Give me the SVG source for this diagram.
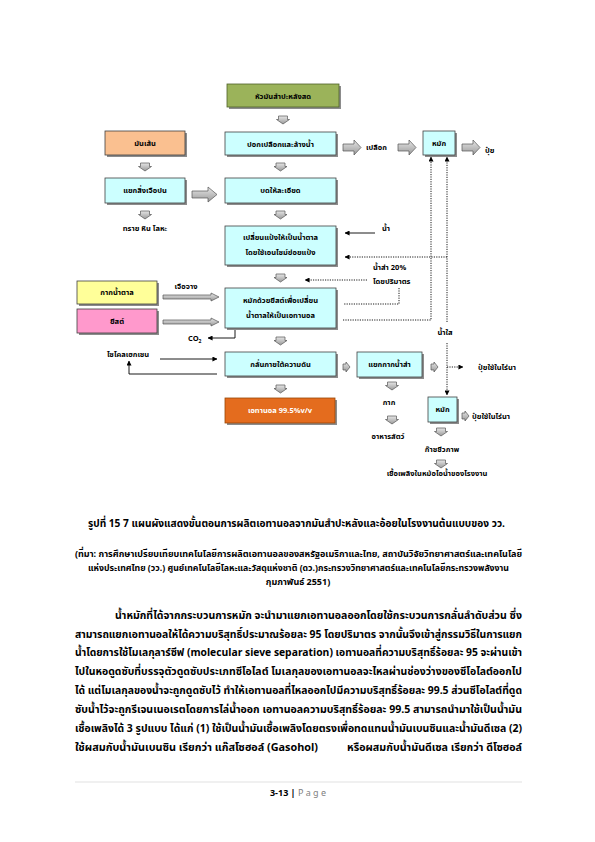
<svg xmlns="http://www.w3.org/2000/svg" width="595" height="842" viewBox="0 0 595 842">
<style>
text{font-family:"Noto Sans Thai","Noto Serif Thai","Loma","Garuda","Tlwg Typo","Noto Sans","DejaVu Sans",sans-serif;fill:#000}
.bx{fill:#CCFFFF;stroke:#404040;stroke-width:0.8}
.sh{fill:#8C8C8C}
.t{font-size:7.5px;font-weight:bold;text-anchor:middle}
.l{font-size:7.5px;font-weight:bold}
.lc{font-size:7.5px;font-weight:bold;text-anchor:middle}
.ga{fill:url(#gg);stroke:#555;stroke-width:0.7}
.sl{fill:none;stroke:#000;stroke-width:0.9}
.dl{fill:none;stroke:#000;stroke-width:0.9;stroke-dasharray:1.2 1.2}
.body{font-size:11px;font-weight:bold}
.cap{font-size:11px;font-weight:bold}
.src{font-size:9px;font-weight:bold}
</style>
<defs>
<linearGradient id="gg" x1="0" y1="0" x2="0" y2="1">
<stop offset="0" stop-color="#E6E6E6"/><stop offset="1" stop-color="#9A9A9A"/>
</linearGradient>
<marker id="ah" viewBox="0 0 6 6" refX="5.5" refY="3" markerWidth="5" markerHeight="5" orient="auto" markerUnits="userSpaceOnUse">
<path d="M0,0 L6,3 L0,6 Z" fill="#000"/>
</marker>
<path id="da" d="M-4.5,0 H4.5 V3.5 H6.5 L0,8 L-6.5,3.5 H-4.5 Z"/>
<path id="ra" d="M0,4 H16 V0 L25,7.5 L16,15 V11 H0 Z"/>
<path id="rm" d="M0,4 H11 V0 L18,7.5 L11,15 V11 H0 Z"/>
<path id="rl" d="M0,2 H48 V0 L56,4 L48,8 V6 H0 Z"/>
<path id="rt" d="M0,2 H3 V0 L7,5 L3,10 V8 H0 Z"/>
</defs>
<rect width="595" height="842" fill="#fff"/>

<g id="connectors">
<use href="#da" x="283" y="116" class="ga"/>
<use href="#da" x="280.5" y="163" class="ga"/>
<use href="#da" x="145" y="163" class="ga"/>
<use href="#da" x="145" y="211" class="ga"/>
<use href="#da" x="280.5" y="211" class="ga"/>
<use href="#da" x="280.5" y="274" class="ga"/>
<use href="#da" x="280.5" y="337" class="ga"/>
<use href="#da" x="280.5" y="385" class="ga"/>
<use href="#da" x="392" y="382" class="ga"/>
<use href="#da" x="392" y="416" class="ga"/>
<use href="#da" x="441" y="428" class="ga"/>
<use href="#da" x="441" y="460" class="ga"/>
<use href="#rm" x="343" y="140" class="ga"/>
<use href="#rm" x="398" y="140" class="ga"/>
<use href="#rm" x="462" y="140" class="ga"/>
<use href="#ra" x="192" y="187" class="ga"/>
<use href="#rl" x="163" y="293" class="ga"/>
<use href="#rl" x="163" y="318" class="ga"/>
<use href="#rt" x="343" y="362" class="ga"/>
<use href="#rt" x="431" y="362" class="ga"/>
<use href="#rt" x="462" y="411" class="ga"/>
<line x1="375" y1="233" x2="345" y2="233" class="sl" marker-end="url(#ah)"/>
<line x1="447" y1="257" x2="345" y2="257" class="dl" marker-end="url(#ah)"/>
<line x1="367" y1="280" x2="305" y2="280" class="dl" marker-end="url(#ah)"/>
<polyline points="399,288 399,304 343,304" class="dl"/>
<polyline points="343,320 431,320 431,157" class="dl" marker-end="url(#ah)"/>
<line x1="447" y1="322" x2="447" y2="157" class="dl" marker-end="url(#ah)"/>
<line x1="447" y1="343" x2="447" y2="395" class="dl" marker-end="url(#ah)"/>
<line x1="447" y1="367" x2="463" y2="367" class="dl" marker-end="url(#ah)"/>
<polyline points="235,328 235,338 208,338" class="sl" marker-end="url(#ah)"/>
<line x1="160" y1="359" x2="217" y2="359" class="sl" marker-end="url(#ah)"/>
<polyline points="217,374 129,374 129,361" class="sl" marker-end="url(#ah)"/>
</g>

<g id="n1"><rect x="229" y="86" width="112" height="23" class="sh"/><rect x="227" y="84" width="112" height="23" fill="#9BB35A" stroke="#4F6228" stroke-width="0.8"/><text x="283" y="99" class="t">หัวมันสำปะหลังสด</text></g>
<g id="n2"><rect x="227" y="134" width="111" height="23" class="sh"/><rect x="225" y="132" width="111" height="23" class="bx"/><text x="280.5" y="147" class="t">ปอกเปลือกและล้างน้ำ</text></g>
<g id="n3"><rect x="425" y="133" width="32" height="24" class="sh"/><rect x="423" y="131" width="32" height="24" class="bx"/><text x="439" y="146" class="t">หมัก</text></g>
<g id="n4"><rect x="107" y="133" width="80" height="24" class="sh"/><rect x="105" y="131" width="80" height="24" fill="#FAC090" stroke="#404040" stroke-width="0.8"/><text x="145" y="146" class="t">มันเส้น</text></g>
<g id="n5"><rect x="107" y="180" width="80" height="25" class="sh"/><rect x="105" y="178" width="80" height="25" class="bx"/><text x="145" y="193" class="t">แยกสิ่งเจือปน</text></g>
<g id="n6"><rect x="227" y="180" width="111" height="25" class="sh"/><rect x="225" y="178" width="111" height="25" class="bx"/><text x="280.5" y="193" class="t">บดให้ละเอียด</text></g>
<g id="n7"><rect x="227" y="228" width="111" height="39" class="sh"/><rect x="225" y="226" width="111" height="39" class="bx"/><text x="280.5" y="240" class="t">เปลี่ยนแป้งให้เป็นน้ำตาล</text><text x="280.5" y="255" class="t">โดยใช้เอนไซม์ย่อยแป้ง</text></g>
<g id="n8"><rect x="227" y="290" width="111" height="40" class="sh"/><rect x="225" y="288" width="111" height="40" class="bx"/><text x="280.5" y="303" class="t">หมักด้วยยีสต์เพื่อเปลี่ยน</text><text x="280.5" y="318" class="t">น้ำตาลให้เป็นเอทานอล</text></g>
<g id="n9"><rect x="79" y="283" width="80" height="23" class="sh"/><rect x="77" y="281" width="80" height="23" fill="#FFFF99" stroke="#404040" stroke-width="0.8"/><text x="117" y="295" class="t">กากน้ำตาล</text></g>
<g id="n10"><rect x="79" y="311" width="80" height="24" class="sh"/><rect x="77" y="309" width="80" height="24" fill="#FF99CC" stroke="#404040" stroke-width="0.8"/><text x="117" y="324" class="t">ยีสต์</text></g>
<g id="n11"><rect x="227" y="354" width="111" height="24" class="sh"/><rect x="225" y="352" width="111" height="24" class="bx"/><text x="280.5" y="367" class="t">กลั่นภายใต้ความดัน</text></g>
<g id="n12"><rect x="359" y="354" width="65" height="25" class="sh"/><rect x="357" y="352" width="65" height="25" class="bx"/><text x="389.5" y="367" class="t">แยกกากน้ำส่า</text></g>
<g id="n13"><rect x="227" y="400" width="110" height="25" class="sh"/><rect x="225" y="398" width="110" height="25" fill="#E46C1E" stroke="#984807" stroke-width="0.8"/><text x="280" y="413" class="t" style="fill:#fff">เอทานอล 99.5%v/v</text></g>
<g id="n14"><rect x="430" y="399" width="29" height="25" class="sh"/><rect x="428" y="397" width="29" height="25" class="bx"/><text x="442.5" y="412" class="t">หมัก</text></g>

<g id="labels">
<text x="366" y="150" class="l">เปลือก</text>
<text x="485" y="153" class="l">ปุ๋ย</text>
<text x="145" y="231" class="lc">ทราย หิน โลหะ</text>
<text x="382" y="231" class="l">น้ำ</text>
<text x="373" y="270" class="l">น้ำส่า 20%</text>
<text x="373" y="284" class="l">โดยปริมาตร</text>
<text x="186" y="289" class="lc">เจือจาง</text>
<text x="188" y="341" class="l">CO<tspan font-size="5" dy="2">2</tspan></text>
<text x="445" y="335" class="lc">น้ำใส</text>
<text x="478" y="370" class="l">ปุ๋ยใช้ในไร่นา</text>
<text x="107" y="357" class="l">ไซโคลเฮกเซน</text>
<text x="389" y="405" class="lc">กาก</text>
<text x="388" y="439" class="lc">อาหารสัตว์</text>
<text x="472" y="419" class="l">ปุ๋ยใช้ในไร่นา</text>
<text x="442" y="452" class="lc">ก๊าซชีวภาพ</text>
<text x="437" y="476" class="lc">เชื้อเพลิงในหม้อไอน้ำของโรงงาน</text>
</g>

<g id="caption">
<text x="88" y="527" class="cap" textLength="417" lengthAdjust="spacingAndGlyphs">รูปที่ 15 7 แผนผังแสดงขั้นตอนการผลิตเอทานอลจากมันสำปะหลังและอ้อยในโรงงานต้นแบบของ วว.</text>
<text x="75" y="556.5" class="src" textLength="447" lengthAdjust="spacingAndGlyphs">(ที่มา: การศึกษาเปรียบเทียบเทคโนโลยีการผลิตเอทานอลของสหรัฐอเมริกาและไทย, สถาบันวิจัยวิทยาศาสตร์และเทคโนโลยี</text>
<text x="88" y="570.5" class="src" textLength="421" lengthAdjust="spacingAndGlyphs">แห่งประเทศไทย (วว.) ศูนย์เทคโนโลยีโลหะและวัสดุแห่งชาติ (ดว.)กระทรวงวิทยาศาสตร์และเทคโนโลยีกระทรวงพลังงาน</text>
<text x="298" y="584.5" class="src" text-anchor="middle">กุมภาพันธ์ 2551)</text>
</g>

<g id="body">
<text x="115" y="619" class="body" textLength="407" lengthAdjust="spacingAndGlyphs">น้ำหมักที่ได้จากกระบวนการหมัก จะนำมาแยกเอทานอลออกโดยใช้กระบวนการกลั่นลำดับส่วน ซึ่ง</text>
<text x="75" y="637.5" class="body" textLength="447" lengthAdjust="spacingAndGlyphs">สามารถแยกเอทานอลให้ได้ความบริสุทธิ์ประมาณร้อยละ 95 โดยปริมาตร จากนั้นจึงเข้าสู่กรรมวิธีในการแยก</text>
<text x="75" y="656" class="body" textLength="447" lengthAdjust="spacingAndGlyphs">น้ำโดยการใช้โมเลกุลาร์ซีฟ (molecular sieve separation) เอทานอลที่ความบริสุทธิ์ร้อยละ 95 จะผ่านเข้า</text>
<text x="75" y="675" class="body" textLength="447" lengthAdjust="spacingAndGlyphs">ไปในหอดูดซับที่บรรจุตัวดูดซับประเภทซีโอไลต์ โมเลกุลของเอทานอลจะไหลผ่านช่องว่างของซีโอไลต์ออกไป</text>
<text x="75" y="694" class="body" textLength="447" lengthAdjust="spacingAndGlyphs">ได้ แต่โมเลกุลของน้ำจะถูกดูดซับไว้ ทำให้เอทานอลที่ไหลออกไปมีความบริสุทธิ์ร้อยละ 99.5 ส่วนซีโอไลต์ที่ดูด</text>
<text x="75" y="713" class="body" textLength="447" lengthAdjust="spacingAndGlyphs">ซับน้ำไว้จะถูกรีเจนเนอเรตโดยการไล่น้ำออก เอทานอลความบริสุทธิ์ร้อยละ 99.5 สามารถนำมาใช้เป็นน้ำมัน</text>
<text x="75" y="732" class="body" textLength="447" lengthAdjust="spacingAndGlyphs">เชื้อเพลิงได้ 3 รูปแบบ ได้แก่ (1) ใช้เป็นน้ำมันเชื้อเพลิงโดยตรงเพื่อทดแทนน้ำมันเบนซินและน้ำมันดีเซล (2)</text>
<text x="75" y="751" class="body" textLength="243" lengthAdjust="spacingAndGlyphs">ใช้ผสมกับน้ำมันเบนซิน เรียกว่า แก๊สโซฮอล์ (Gasohol)</text>
<text x="347" y="751" class="body" textLength="175" lengthAdjust="spacingAndGlyphs">หรือผสมกับน้ำมันดีเซล เรียกว่า ดีโซฮอล์</text>
</g>

<g id="footer">
<line x1="75" y1="782" x2="522" y2="782" stroke="#D9D9D9" stroke-width="0.8"/>
<text x="298" y="795.5" text-anchor="middle" style="font-size:9px"><tspan font-weight="bold">3-13 | </tspan><tspan fill="#7F7F7F">P a g e</tspan></text>
</g>
</svg>
